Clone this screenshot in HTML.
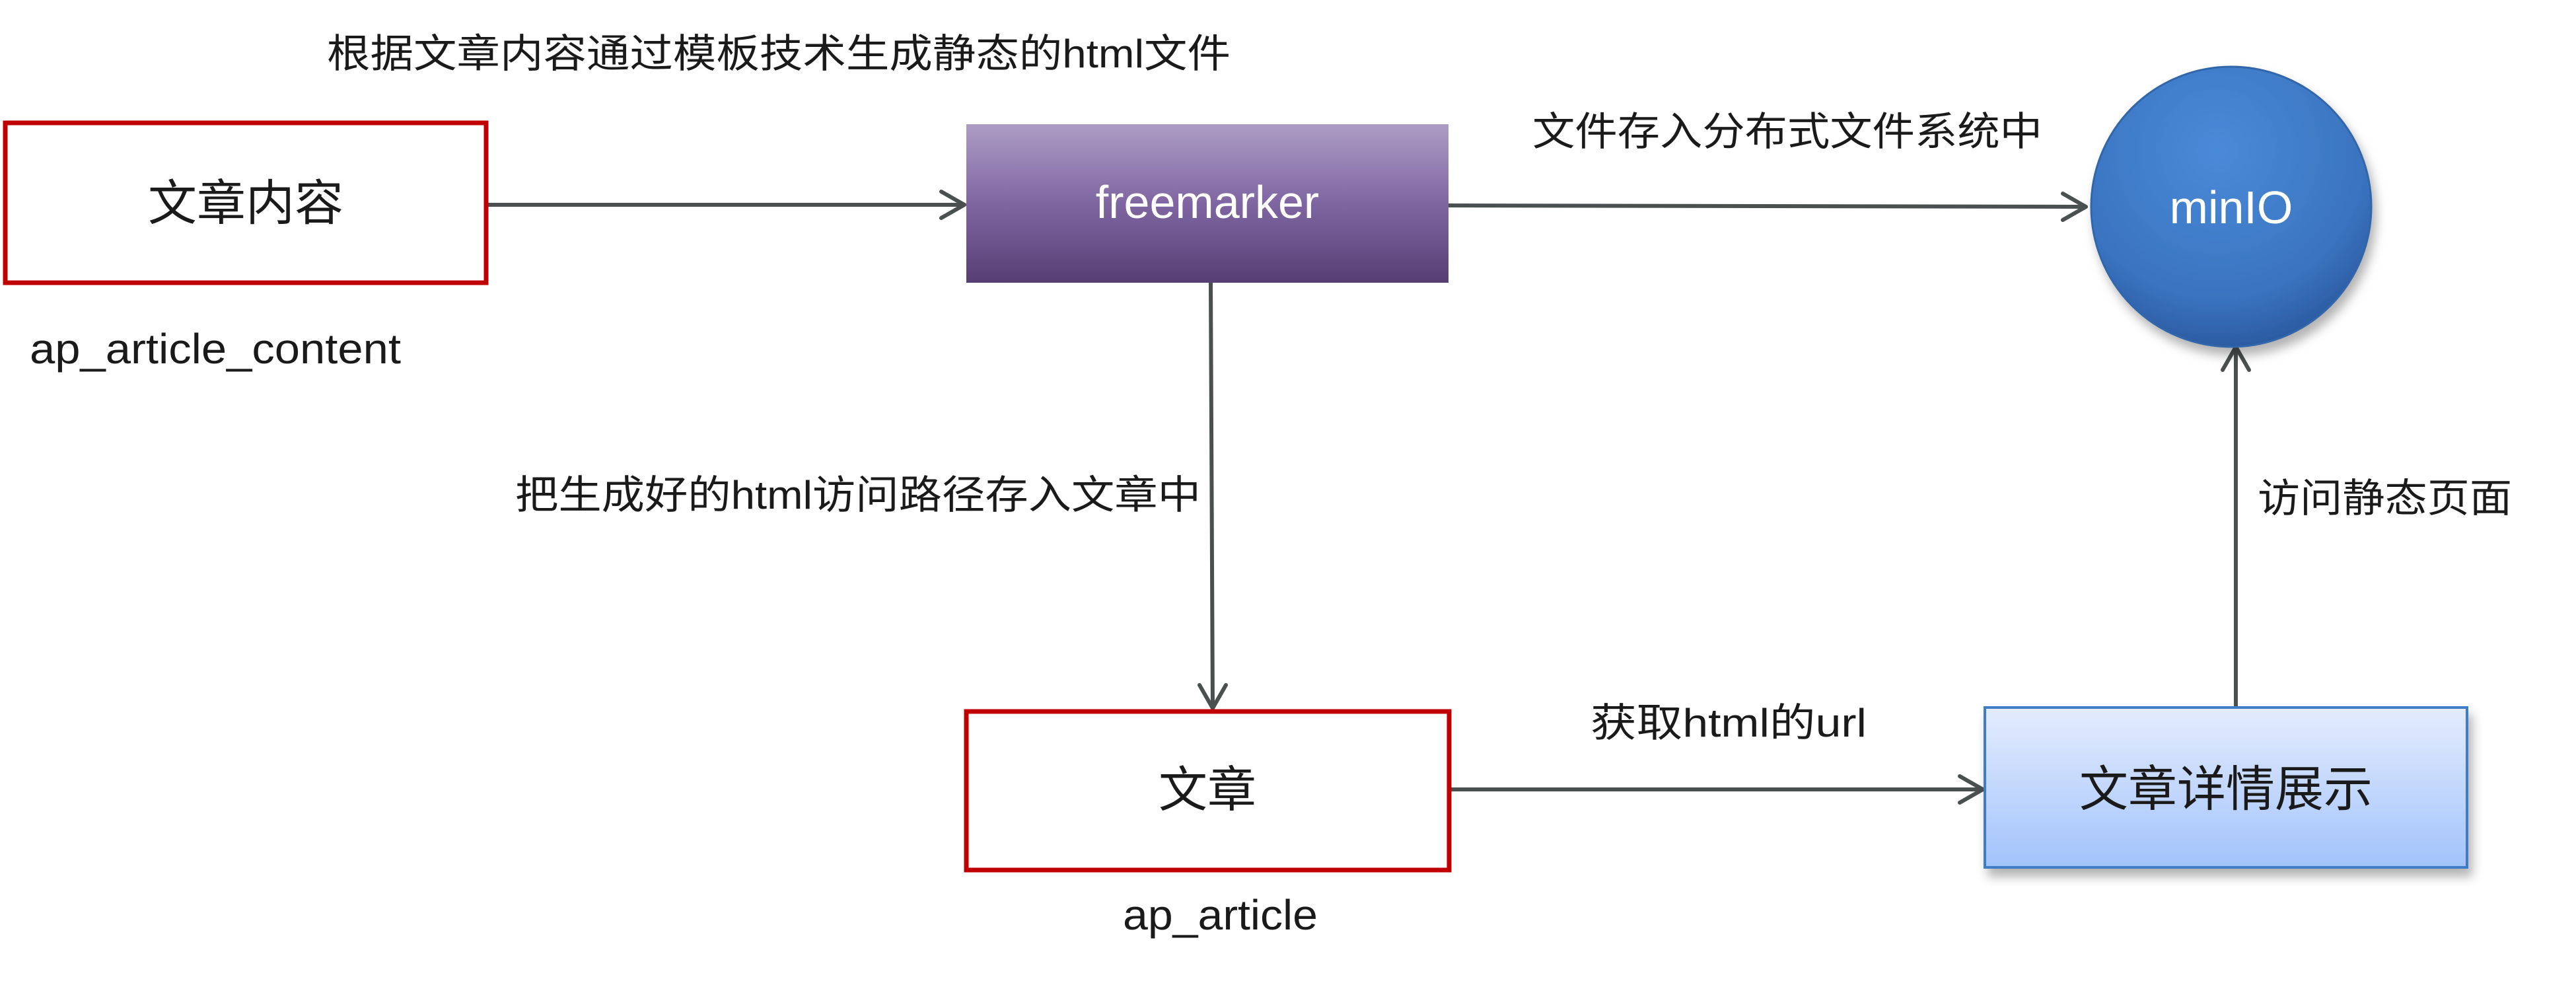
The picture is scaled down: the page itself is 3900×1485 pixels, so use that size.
<!DOCTYPE html>
<html><head><meta charset="utf-8"><style>
html,body{margin:0;padding:0;background:#fff;width:3900px;height:1485px;overflow:hidden}
text{font-family:"Liberation Sans","Noto Sans CJK SC",sans-serif;fill:#1a1a1a}
</style></head><body>
<svg width="3900" height="1485" xmlns="http://www.w3.org/2000/svg">
<defs>
<linearGradient id="pg" x1="0" y1="0" x2="0" y2="1"><stop offset="0" stop-color="#ad9cc4"/><stop offset="0.5" stop-color="#7f66a2"/><stop offset="1" stop-color="#563f73"/></linearGradient>
<linearGradient id="bg" x1="0" y1="0" x2="0" y2="1"><stop offset="0" stop-color="#e4ecfd"/><stop offset="1" stop-color="#a2c3fb"/></linearGradient>
<radialGradient id="cg" cx="0.45" cy="0.3" r="0.75"><stop offset="0" stop-color="#4a8ad8"/><stop offset="0.7" stop-color="#3a74c0"/><stop offset="1" stop-color="#28559a"/></radialGradient>
<filter id="sh" x="-10%" y="-10%" width="120%" height="130%"><feDropShadow dx="6" dy="12" stdDeviation="8" flood-color="#000" flood-opacity="0.3"/></filter>
</defs>
<g stroke="#4a4f4f" stroke-width="6" fill="none" stroke-linecap="round" stroke-linejoin="round">
<line x1="738" y1="310" x2="1460" y2="310"/><polyline points="1425,290 1460,310 1425,330"/>
<line x1="2193" y1="311" x2="3158" y2="313"/><polyline points="3123,293 3158,313 3123,333"/>
<line x1="1833" y1="428" x2="1836" y2="1072"/><polyline points="1816,1037 1836,1072 1856,1037"/>
<line x1="2195" y1="1195" x2="3002" y2="1195"/><polyline points="2967,1175 3002,1195 2967,1215"/>
<line x1="3385" y1="1070" x2="3385" y2="525"/><polyline points="3365,560 3385,525 3405,560"/>
</g>
<rect x="8" y="186" width="728" height="242" fill="#fff" stroke="#c00000" stroke-width="7"/>
<text x="372" y="333" font-size="74" text-anchor="middle">文章内容</text>
<rect x="1463" y="188" width="730" height="240" fill="url(#pg)"/>
<text x="1828" y="330" font-size="70" text-anchor="middle" style="fill:#fff">freemarker</text>
<ellipse cx="3378" cy="313" rx="212" ry="212" fill="url(#cg)" stroke="#3366aa" stroke-width="3" filter="url(#sh)"/>
<text x="3378" y="338" font-size="70" text-anchor="middle" style="fill:#fff">minIO</text>
<rect x="1463" y="1077" width="731" height="240" fill="#fff" stroke="#c00000" stroke-width="7"/>
<text x="1828" y="1221" font-size="74" text-anchor="middle">文章</text>
<rect x="3005" y="1071" width="730" height="242" fill="url(#bg)" stroke="#3f7bc8" stroke-width="4" filter="url(#sh)"/>
<text x="3370" y="1220" font-size="74" text-anchor="middle">文章详情展示</text>
<text x="495" y="102" font-size="60" textLength="1368" lengthAdjust="spacingAndGlyphs">根据文章内容通过模板技术生成静态的html文件</text>
<text x="45" y="550" font-size="64" textLength="562" lengthAdjust="spacingAndGlyphs">ap_article_content</text>
<text x="2320" y="220" font-size="60" textLength="772" lengthAdjust="spacingAndGlyphs">文件存入分布式文件系统中</text>
<text x="780" y="770" font-size="60" textLength="1038" lengthAdjust="spacingAndGlyphs">把生成好的html访问路径存入文章中</text>
<text x="3418" y="775" font-size="60" textLength="385" lengthAdjust="spacingAndGlyphs">访问静态页面</text>
<text x="2408" y="1115" font-size="60" textLength="418" lengthAdjust="spacingAndGlyphs">获取html的url</text>
<text x="1700" y="1407" font-size="64" textLength="295" lengthAdjust="spacingAndGlyphs">ap_article</text>
</svg>
</body></html>
